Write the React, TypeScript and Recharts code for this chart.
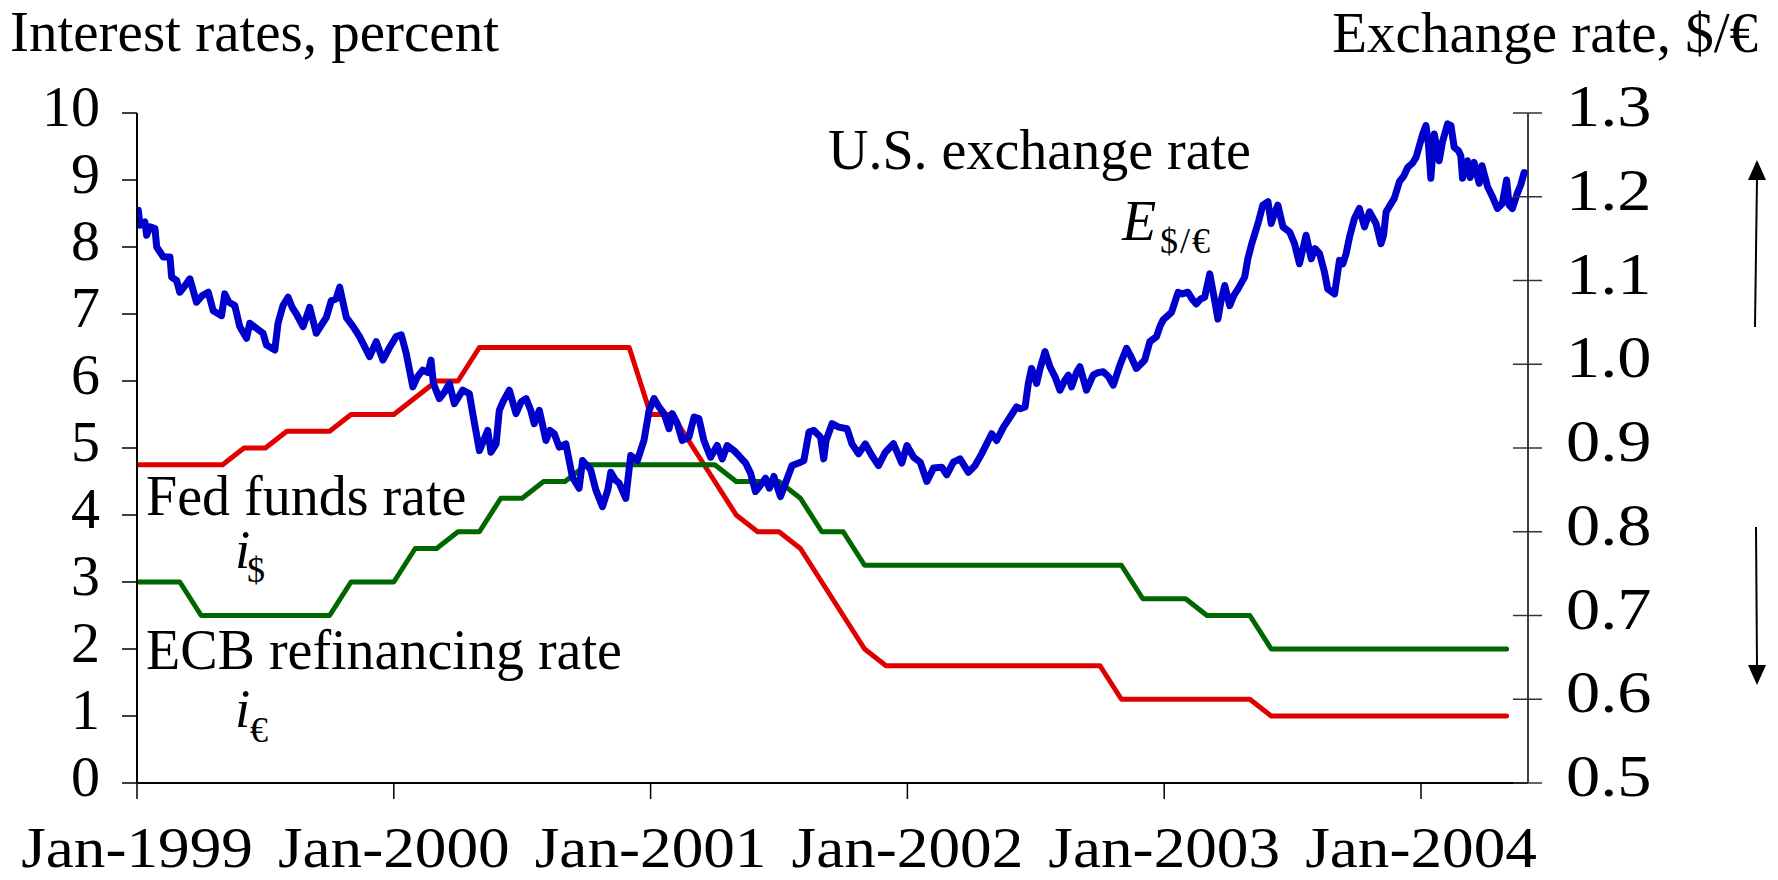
import React from 'react';
import { LineChart, Line, XAxis, YAxis } from 'recharts';

const FONT = '"Liberation Serif", "Times New Roman", Times, serif';

// x positions are months since Jan-1999 (0 = Jan-1999)
const xTicks = [0, 12, 24, 36, 48, 60];
const xTickLabels = ['Jan-1999', 'Jan-2000', 'Jan-2001', 'Jan-2002', 'Jan-2003', 'Jan-2004'];
const leftTicks = [0, 1, 2, 3, 4, 5, 6, 7, 8, 9, 10];
const rightTicks = [0.5, 0.6, 0.7, 0.8, 0.9, 1.0, 1.1, 1.2, 1.3];

// Monthly Fed funds rate (percent), Jan-1999 ... May-2004
const fedFundsRate = [
  4.75, 4.75, 4.75, 4.75, 4.75, 5.0, 5.0, 5.25, 5.25, 5.25, 5.5, 5.5,
  5.5, 5.75, 6.0, 6.0, 6.5, 6.5, 6.5, 6.5, 6.5, 6.5, 6.5, 6.5,
  5.5, 5.5, 5.0, 4.5, 4.0, 3.75, 3.75, 3.5, 3.0, 2.5, 2.0, 1.75,
  1.75, 1.75, 1.75, 1.75, 1.75, 1.75, 1.75, 1.75, 1.75, 1.75, 1.25, 1.25,
  1.25, 1.25, 1.25, 1.25, 1.25, 1.0, 1.0, 1.0, 1.0, 1.0, 1.0, 1.0,
  1.0, 1.0, 1.0, 1.0, 1.0,
];

// Monthly ECB refinancing rate (percent), Jan-1999 ... May-2004
const ecbRate = [
  3.0, 3.0, 3.0, 2.5, 2.5, 2.5, 2.5, 2.5, 2.5, 2.5, 3.0, 3.0,
  3.0, 3.5, 3.5, 3.75, 3.75, 4.25, 4.25, 4.5, 4.5, 4.75, 4.75, 4.75,
  4.75, 4.75, 4.75, 4.75, 4.5, 4.5, 4.5, 4.25, 3.75, 3.75, 3.25, 3.25,
  3.25, 3.25, 3.25, 3.25, 3.25, 3.25, 3.25, 3.25, 3.25, 3.25, 3.25, 2.75,
  2.75, 2.75, 2.5, 2.5, 2.5, 2.0, 2.0, 2.0, 2.0, 2.0, 2.0, 2.0,
  2.0, 2.0, 2.0, 2.0, 2.0,
];

// Exchange rate $/€ : [month, rate]
const exchangeRate: [number, number][] = [
  [0.06, 1.184], [0.14, 1.166], [0.37, 1.170], [0.45, 1.154], [0.61, 1.164], [0.84, 1.162],
  [0.92, 1.140], [1.23, 1.128], [1.54, 1.128], [1.62, 1.104], [1.85, 1.100], [2.0, 1.086],
  [2.25, 1.094], [2.47, 1.102], [2.78, 1.074], [3.05, 1.082], [3.33, 1.086], [3.56, 1.064],
  [3.95, 1.058], [4.1, 1.084], [4.3, 1.074], [4.57, 1.070], [4.8, 1.045], [5.12, 1.031],
  [5.27, 1.049], [5.58, 1.043], [5.89, 1.037], [6.05, 1.023], [6.44, 1.017], [6.59, 1.049],
  [6.82, 1.070], [7.06, 1.080], [7.25, 1.068], [7.45, 1.060], [7.76, 1.045], [8.07, 1.068],
  [8.38, 1.037], [8.6, 1.046], [8.85, 1.056], [9.08, 1.076], [9.3, 1.078], [9.47, 1.092],
  [9.78, 1.056], [10.1, 1.045], [10.4, 1.033], [10.87, 1.009], [11.18, 1.027], [11.49, 1.005],
  [11.8, 1.020], [12.11, 1.033], [12.35, 1.035], [12.58, 1.013], [12.89, 0.973], [13.1, 0.985],
  [13.35, 0.993], [13.6, 0.990], [13.74, 1.005], [13.85, 0.977], [14.13, 0.959], [14.4, 0.968],
  [14.6, 0.977], [14.83, 0.953], [15.05, 0.962], [15.22, 0.969], [15.53, 0.965], [15.69, 0.941],
  [16.0, 0.897], [16.2, 0.909], [16.39, 0.921], [16.54, 0.895], [16.78, 0.905], [16.93, 0.945],
  [17.1, 0.955], [17.4, 0.969], [17.71, 0.941], [17.95, 0.955], [18.18, 0.959], [18.4, 0.945],
  [18.56, 0.929], [18.8, 0.945], [19.11, 0.909], [19.3, 0.921], [19.5, 0.917], [19.73, 0.901],
  [20.04, 0.905], [20.35, 0.865], [20.66, 0.852], [20.82, 0.885], [21.0, 0.880], [21.2, 0.874],
  [21.44, 0.850], [21.75, 0.830], [22.0, 0.850], [22.14, 0.871], [22.35, 0.862], [22.53, 0.858],
  [22.84, 0.840], [23.07, 0.891], [23.38, 0.885], [23.69, 0.909], [23.93, 0.945], [24.16, 0.959],
  [24.39, 0.949], [24.63, 0.941], [24.86, 0.923], [25.01, 0.941], [25.25, 0.929], [25.48, 0.909],
  [25.79, 0.913], [26.03, 0.937], [26.26, 0.935], [26.49, 0.909], [26.8, 0.889], [27.11, 0.903],
  [27.35, 0.887], [27.58, 0.903], [27.89, 0.897], [28.12, 0.891], [28.44, 0.882], [28.67, 0.870],
  [28.9, 0.848], [29.21, 0.858], [29.37, 0.864], [29.55, 0.852], [29.76, 0.866], [30.07, 0.842],
  [30.3, 0.858], [30.61, 0.879], [30.92, 0.882], [31.16, 0.885], [31.4, 0.919], [31.63, 0.921],
  [31.94, 0.913], [32.09, 0.887], [32.2, 0.909], [32.48, 0.929], [32.79, 0.925], [33.18, 0.923],
  [33.41, 0.905], [33.72, 0.893], [34.03, 0.905], [34.34, 0.891], [34.65, 0.879], [34.97, 0.895],
  [35.35, 0.905], [35.74, 0.882], [35.98, 0.903], [36.29, 0.889], [36.6, 0.883], [36.91, 0.860],
  [37.22, 0.876], [37.61, 0.877], [37.84, 0.868], [38.15, 0.883], [38.46, 0.887], [38.85, 0.871],
  [39.16, 0.879], [39.47, 0.893], [39.94, 0.917], [40.17, 0.909], [40.49, 0.925], [40.8, 0.937],
  [41.1, 0.949], [41.27, 0.947], [41.5, 0.949], [41.65, 0.977], [41.8, 0.995], [42.04, 0.977],
  [42.2, 0.995], [42.43, 1.015], [42.66, 0.997], [42.9, 0.985], [43.13, 0.969], [43.36, 0.981],
  [43.52, 0.987], [43.67, 0.973], [43.9, 0.990], [44.06, 0.997], [44.37, 0.969], [44.68, 0.987],
  [44.9, 0.990], [45.15, 0.991], [45.4, 0.985], [45.62, 0.975], [45.93, 0.999], [46.24, 1.019],
  [46.45, 1.009], [46.7, 0.995], [46.9, 1.000], [47.09, 1.005], [47.33, 1.027], [47.64, 1.033],
  [47.8, 1.045], [47.95, 1.053], [48.34, 1.062], [48.65, 1.086], [48.85, 1.084], [49.11, 1.086],
  [49.3, 1.078], [49.5, 1.072], [49.7, 1.078], [49.89, 1.080], [50.13, 1.108], [50.36, 1.076],
  [50.51, 1.054], [50.65, 1.075], [50.83, 1.094], [51.06, 1.070], [51.25, 1.082], [51.45, 1.090],
  [51.76, 1.104], [51.91, 1.126], [52.07, 1.142], [52.38, 1.168], [52.61, 1.190], [52.85, 1.194],
  [53.0, 1.168], [53.15, 1.180], [53.31, 1.190], [53.55, 1.164], [53.86, 1.158], [54.09, 1.144],
  [54.32, 1.120], [54.63, 1.154], [54.87, 1.126], [55.05, 1.138], [55.26, 1.132], [55.49, 1.110],
  [55.64, 1.090], [55.96, 1.084], [56.19, 1.124], [56.35, 1.120], [56.5, 1.132], [56.66, 1.152],
  [56.89, 1.174], [57.12, 1.186], [57.36, 1.164], [57.59, 1.182], [57.9, 1.168], [58.13, 1.144],
  [58.25, 1.154], [58.37, 1.182], [58.75, 1.198], [58.99, 1.218], [59.2, 1.225], [59.38, 1.235],
  [59.6, 1.240], [59.77, 1.247], [60.08, 1.275], [60.23, 1.285], [60.35, 1.262], [60.46, 1.222],
  [60.62, 1.275], [60.85, 1.243], [61.0, 1.265], [61.24, 1.287], [61.4, 1.285], [61.55, 1.259],
  [61.75, 1.255], [61.86, 1.249], [61.94, 1.222], [62.17, 1.243], [62.3, 1.223], [62.48, 1.241],
  [62.72, 1.216], [62.85, 1.237], [63.11, 1.212], [63.34, 1.200], [63.57, 1.186], [63.8, 1.192],
  [64.0, 1.220], [64.12, 1.190], [64.27, 1.186], [64.5, 1.204], [64.66, 1.214], [64.82, 1.229],
];

const fedData = fedFundsRate.map((v, i) => ({ t: i, v }));
const ecbData = ecbRate.map((v, i) => ({ t: i, v }));
const fxData = exchangeRate.map(([t, e]) => ({ t, e }));

const AX = '#000';

const LeftTick = (props: any) => {
  const { x, y, payload } = props;
  return (
    <text x={x} y={y} dy={12.5} textAnchor="end" fontSize={58} fontFamily={FONT} fill="#000">
      {payload.value}
    </text>
  );
};

const RIGHT_TICK_SIZE = 15;
const RIGHT_TICK_MARGIN = 23;
const RightTick = (props: any) => {
  const { x, y, payload } = props;
  const ax = x - RIGHT_TICK_SIZE - RIGHT_TICK_MARGIN;
  return (
    <g>
      <line x1={ax - 15} x2={ax + 14} y1={y} y2={y} stroke="#333" strokeWidth={1.5} />
      <text
        transform={`translate(${x},${y + 13}) scale(1.14,1)`}
        x={0}
        y={0}
        textAnchor="start"
        fontSize={60}
        fontFamily={FONT}
        fill="#000"
      >
        {Number(payload.value).toFixed(1)}
      </text>
    </g>
  );
};

const BottomTick = (props: any) => {
  const { x, y, payload } = props;
  const idx = xTicks.indexOf(payload.value);
  return (
    <text
      transform={`translate(${x},${y + 68}) scale(1.09,1)`}
      x={0}
      y={0}
      textAnchor="middle"
      fontSize={58}
      fontFamily={FONT}
      fill="#000"
    >
      {xTickLabels[idx]}
    </text>
  );
};

export default function App() {
  return (
    <div style={{ position: 'absolute', left: 0, top: 0, width: 1778, height: 880, background: '#fff' }}>
      <LineChart width={1778} height={880} margin={{ top: 113, right: 0, bottom: 0, left: 0 }}>
        <XAxis
          dataKey="t"
          type="number"
          domain={[0, 65]}
          ticks={xTicks}
          allowDataOverflow
          height={97}
          tickSize={16}
          tickMargin={0}
          axisLine={{ stroke: AX, strokeWidth: 2 }}
          tickLine={{ stroke: AX, strokeWidth: 1.5 }}
          tick={<BottomTick />}
          interval={0}
        />
        <YAxis
          yAxisId="left"
          orientation="left"
          type="number"
          domain={[0, 10]}
          ticks={leftTicks}
          allowDataOverflow
          width={137}
          tickSize={15}
          tickMargin={22}
          axisLine={{ stroke: AX, strokeWidth: 2 }}
          tickLine={{ stroke: AX, strokeWidth: 1.5 }}
          tick={<LeftTick />}
          interval={0}
        />
        <YAxis
          yAxisId="right"
          orientation="right"
          type="number"
          domain={[0.5, 1.3]}
          ticks={rightTicks}
          allowDataOverflow
          width={250}
          tickSize={RIGHT_TICK_SIZE}
          tickMargin={RIGHT_TICK_MARGIN}
          axisLine={{ stroke: AX, strokeWidth: 1.5 }}
          tickLine={false}
          tick={<RightTick />}
          interval={0}
        />
        <Line
          yAxisId="left"
          data={fedData}
          dataKey="v"
          type="linear"
          stroke="#E00000"
          strokeWidth={5}
          strokeLinejoin="round"
          strokeLinecap="round"
          dot={false}
          activeDot={false}
          isAnimationActive={false}
        />
        <Line
          yAxisId="left"
          data={ecbData}
          dataKey="v"
          type="linear"
          stroke="#006600"
          strokeWidth={5}
          strokeLinejoin="round"
          strokeLinecap="round"
          dot={false}
          activeDot={false}
          isAnimationActive={false}
        />
        <Line
          yAxisId="right"
          data={fxData}
          dataKey="e"
          type="linear"
          stroke="#0000CC"
          strokeWidth={7}
          strokeLinejoin="round"
          strokeLinecap="round"
          dot={false}
          activeDot={false}
          isAnimationActive={false}
        />
      </LineChart>
      <svg
        width={1778}
        height={880}
        style={{ position: 'absolute', left: 0, top: 0, pointerEvents: 'none' }}
        fontFamily={FONT}
        fill="#000"
      >
        <text x={10} y={51} fontSize={57}>Interest rates, percent</text>
        <text x={1758} y={52} fontSize={57} textAnchor="end">Exchange rate, $/€</text>
        <text x={828} y={169} fontSize={56}>U.S. exchange rate</text>
        <text x={1122} y={240} fontSize={56} fontStyle="italic">E</text>
        <text x={1160} y={253} fontSize={36} letterSpacing={2}>$/€</text>
        <text x={146} y={515} fontSize={56}>Fed funds rate</text>
        <text x={235} y={568} fontSize={55} fontStyle="italic">i</text>
        <text x={247} y={582} fontSize={36}>$</text>
        <text x={146} y={669} fontSize={56}>ECB refinancing rate</text>
        <text x={235} y={727} fontSize={55} fontStyle="italic">i</text>
        <text x={250} y={742} fontSize={36}>€</text>
        <line x1={1755} y1={327} x2={1757} y2={178} stroke="#000" strokeWidth={2} />
        <polygon points="1757,160 1748,180 1766,180" fill="#000" />
        <line x1={1756} y1={527} x2={1757} y2={667} stroke="#000" strokeWidth={2} />
        <polygon points="1757,685 1748,665 1766,665" fill="#000" />
      </svg>
    </div>
  );
}
